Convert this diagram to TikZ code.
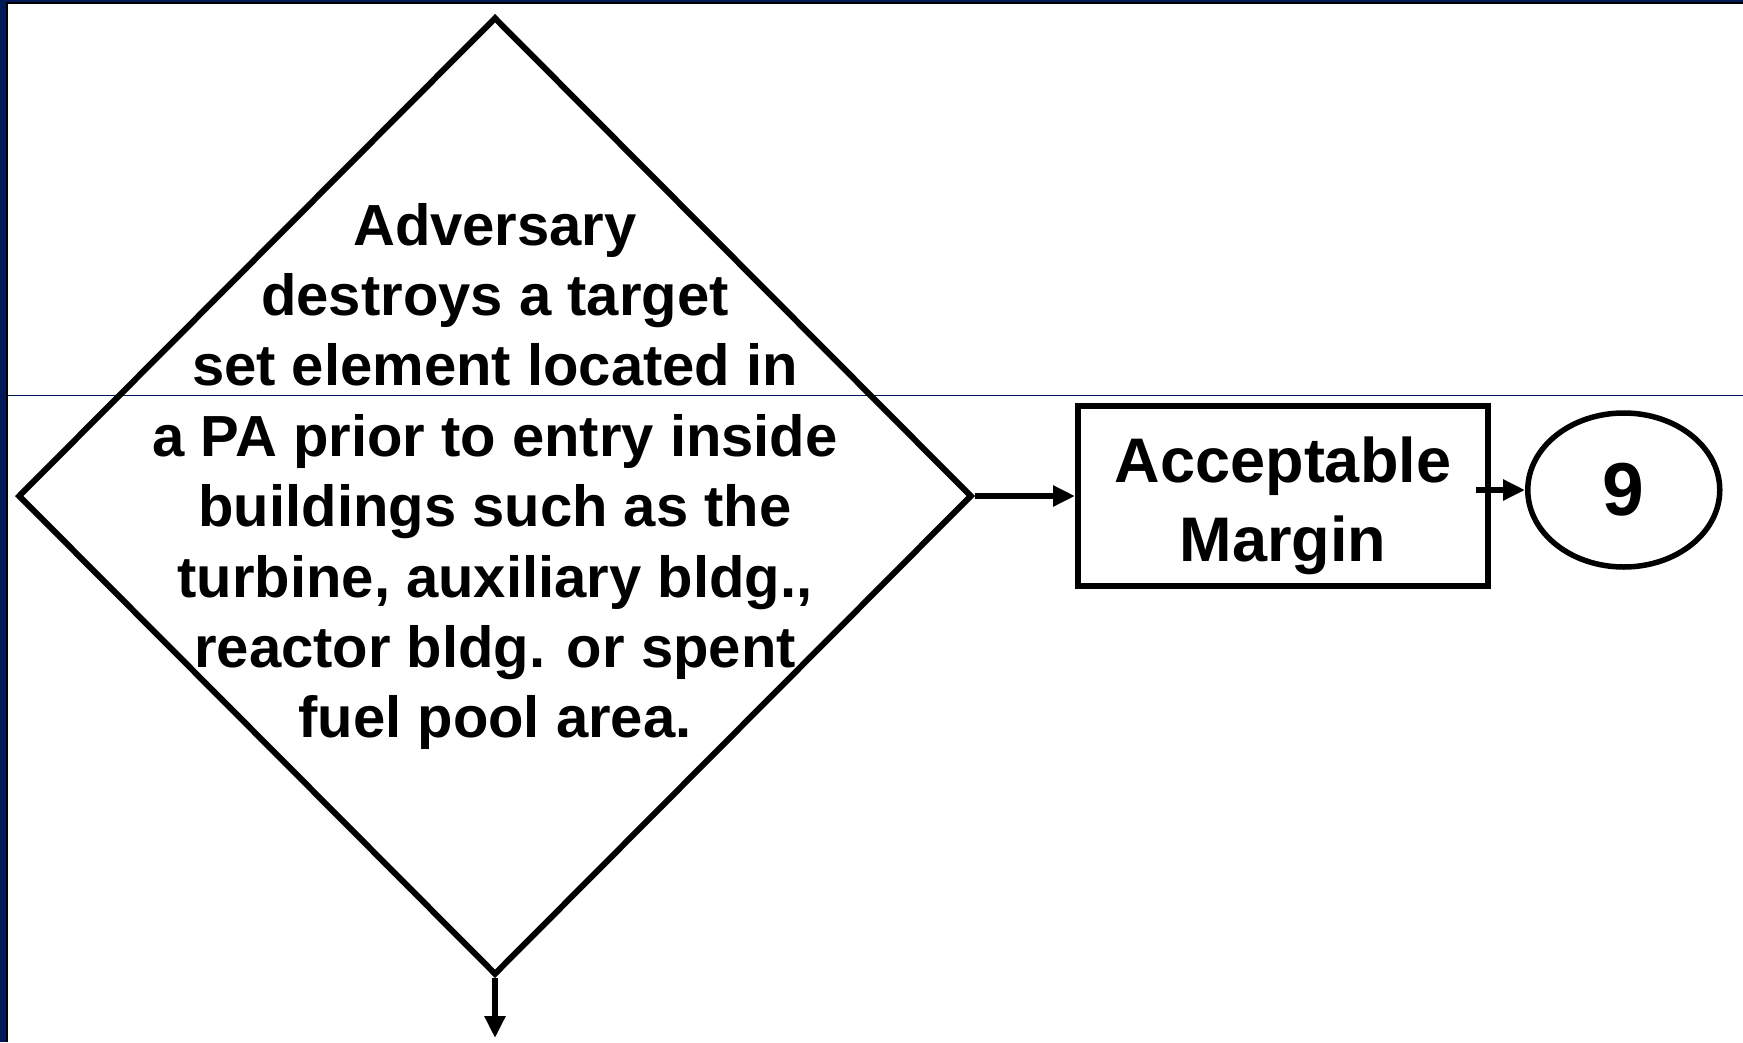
\documentclass[tikz,border=0pt]{standalone}
\usepackage{fontspec}
\setmainfont{Liberation Sans}
\usetikzlibrary{arrows.meta}
\usetikzlibrary{shapes.geometric}
\usetikzlibrary{positioning}
\usepackage{xcolor}
\definecolor{slidenavy}{RGB}{0,26,87}

\begin{document}
\begin{tikzpicture}[
        x=1bp, y=-1bp,
        dnode/.style={diamond, draw=black, line width=6bp, minimum width=954bp, minimum height=958bp, inner sep=0pt},
        dtext/.style={align=center, font=\fontsize{58bp}{70.4bp}\selectfont\bfseries},
        bnode/.style={rectangle, draw=black, line width=6bp, minimum width=410bp, minimum height=180bp, inner sep=0pt},
        btext/.style={align=center, font=\fontsize{63bp}{79bp}\selectfont\bfseries},
        enode/.style={ellipse, draw=black, line width=5.5bp, minimum width=192bp, minimum height=154bp, inner sep=0pt, font=\fontsize{75bp}{84bp}\selectfont\bfseries},
        node distance=100bp,
        ->,>={Triangle[length=22bp,width=20bp]},line width=5.5bp
    ]
        \useasboundingbox (0,0) rectangle (1743,1042);
        % slide frame
        \fill[slidenavy] (0,0) rectangle (6,1042);
        \fill[slidenavy] (0,0) rectangle (1743,2);
        \draw[-,black,line width=2bp] (7,1042) -- (7,3) -- (1743,3);
        \draw[-,slidenavy,line width=1.5bp] (7,395.5) -- (1743,395.5);

        \node[dnode] (dia) at (495,496) {};
        \node[dtext] (dlabel) at ([yshift=19.5bp]dia.center) {Adversary\\destroys a target\\set element located in\\a PA prior to entry inside\\buildings such as the\\turbine, auxiliary bldg.,\\reactor bldg. or spent\\fuel pool area.};
        \node[bnode] (margin) [right=of dia] {};
        \node[btext] (mlabel) at ([yshift=-10bp]margin.center) {Acceptable\\Margin};
        \node[enode] (nine) [right=34bp of margin, yshift=6bp] {9};
        \coordinate[below=60bp of dia.south] (exit);

        \path (dia.east) edge (margin.west)
            (margin.east |- nine.west) edge[shorten <=-15bp] (nine.west)
            (dia.south) edge (exit);
    \end{tikzpicture}
\end{document}
